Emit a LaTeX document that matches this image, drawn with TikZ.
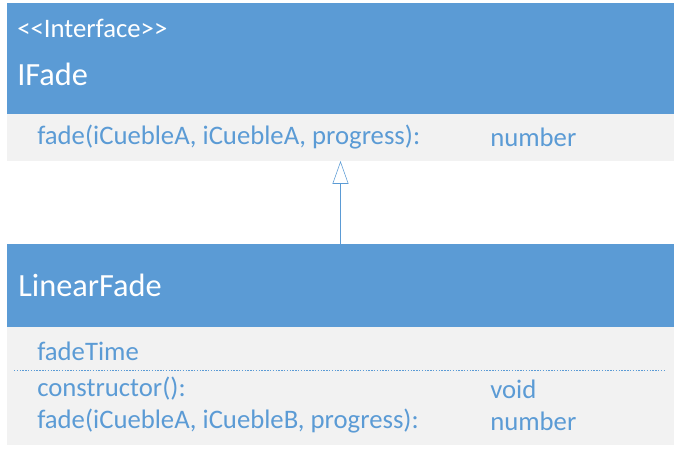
\documentclass[tikz,border=0pt]{standalone}
\usepackage{fontspec}
\setmainfont{Carlito}
\usepackage{xcolor}
\usetikzlibrary{arrows.meta, positioning}
\definecolor{umlblue}{HTML}{5B9BD5}
\definecolor{umlgray}{HTML}{F2F2F2}

\begin{document}
\begin{tikzpicture}[x=0.025cm, y=-0.025cm,
    box/.style={minimum width=16.675cm, inner sep=0pt, outer sep=0pt},
    headbox/.style={box, fill=umlblue},
    bodybox/.style={box, fill=umlgray},
    title/.style={anchor=west, inner sep=0pt, text=white, font=\fontsize{23}{26}\selectfont},
    member/.style={anchor=west, inner sep=0pt, text=umlblue, font=\fontsize{19}{22}\selectfont},
    inherit/.style={umlblue, thin, -{Triangle[open, length=0.57cm, width=0.4cm]}}]
            \useasboundingbox (0,0) rectangle (676,451);

            % IFade
            \node[headbox, minimum height=2.775cm] (ifadehead) at (340.5,58.5) {};
            \node[bodybox, minimum height=1.175cm] (ifadebody) at (340.5,137.5) {};
            \node[title, font=\fontsize{19}{22}\selectfont] (stereo) at (17,28) {<\kern0pt<Interface>\kern0pt>};
            \node[title] (ifadename) at (17,74) {IFade};
            \node[member] (ifadefade) at (37,137) {fade(iCuebleA, iCuebleA, progress):};
            \node[member] (ifaderet) at (490,137) {number};

            % LinearFade
            \node[headbox, minimum height=2.075cm] (linhead) at (340.5,285.5) {};
            \node[bodybox, minimum height=2.95cm] (linbody) at (340.5,386) {};
            \node[title] (linname) at (18,285) {LinearFade};
            \node[member] (lintime) at (37,351) {fadeTime};
            \draw[umlblue, thin, dash pattern=on 1pt off 1pt] (14,370) -- (666,370);
            \node[member] (linctor) at (37,389) {constructor():};
            \node[member] (linctorret) at (490,389) {void};
            \node[member] (linfade) at (37,421) {fade(iCuebleA, iCuebleB, progress):};
            \node[member] (linfaderet) at (490,421) {number};

            \draw[inherit] (linhead.north) -- (ifadebody.south);
          \end{tikzpicture}
\end{document}
